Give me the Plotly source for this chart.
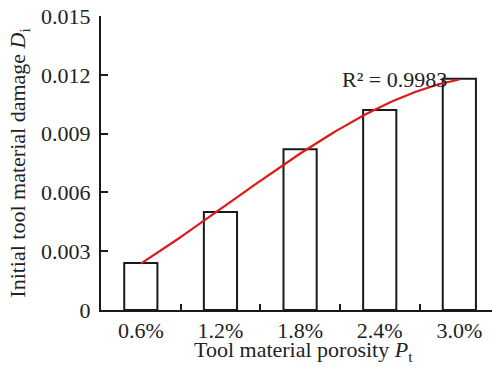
import numpy as np
import plotly.graph_objects as go

# Tool material porosity (%) and initial damage D_i
porosity = [0.6, 1.2, 1.8, 2.4, 3.0]
porosity_labels = ["0.6%", "1.2%", "1.8%", "2.4%", "3.0%"]
damage = [0.0024, 0.0050, 0.0082, 0.0102, 0.0118]

y_ticks = [0, 0.003, 0.006, 0.009, 0.012, 0.015]
y_tick_text = ["0", "0.003", "0.006", "0.009", "0.012", "0.015"]
category_bounds = [0.9, 1.5, 2.1, 2.7]

# Cubic trendline through the bar values
coef = np.polyfit(porosity, damage, 3)
fit_x = np.linspace(porosity[0], porosity[-1], 120)
fit_y = np.polyval(coef, fit_x)
pred = np.polyval(coef, porosity)
ss_res = np.sum((np.array(damage) - pred) ** 2)
ss_tot = np.sum((np.array(damage) - np.mean(damage)) ** 2)
r2 = 1 - ss_res / ss_tot

FONT = "Liberation Serif"
SIZE = 22
PLOT_H = 368 - 16 - 58

fig = go.Figure()
fig.add_trace(go.Bar(
    x=porosity, y=damage, width=0.25,
    marker=dict(color="white", line=dict(color="#1a1a1a", width=2)),
    showlegend=False,
))
fig.add_trace(go.Scatter(
    x=fit_x, y=fit_y, mode="lines",
    line=dict(color="#e01818", width=2.2),
    showlegend=False,
))

fig.add_annotation(
    x=2.51, y=0.01175, xref="x", yref="y",
    text=f"R² = {r2:.4f}", showarrow=False,
    xanchor="center", yanchor="middle",
    font=dict(family=FONT, size=SIZE, color="#222"),
)

# x-axis title anchored to the bottom edge, below the tick labels
fig.add_annotation(
    x=0.519, y=-57 / PLOT_H, xref="paper", yref="paper",
    text="Tool material porosity <i>P</i><sub>t</sub>", showarrow=False,
    xanchor="center", yanchor="bottom",
    font=dict(family=FONT, size=SIZE, color="#222"),
)

fig.update_layout(
    width=492, height=368,
    margin=dict(l=101, r=0, t=16, b=58),
    paper_bgcolor="white", plot_bgcolor="white",
    font=dict(family=FONT, size=SIZE, color="#222"),
    xaxis=dict(
        range=[0.3, 3.246],
        tickvals=porosity, ticktext=porosity_labels,
        ticks="", showgrid=False, zeroline=False,
        showline=True, linecolor="#1a1a1a", linewidth=2,
        minor=dict(tickvals=category_bounds, ticks="inside",
                   ticklen=6, tickwidth=2, tickcolor="#1a1a1a"),
        tickfont=dict(family=FONT, size=SIZE),
    ),
    yaxis=dict(
        range=[0, 0.015],
        tickvals=y_ticks, ticktext=y_tick_text,
        ticks="inside", ticklen=7, tickwidth=2, tickcolor="#1a1a1a",
        showgrid=False, zeroline=False,
        showline=True, linecolor="#1a1a1a", linewidth=2,
        title=dict(text="Initial tool material damage <i>D</i><sub>i</sub>",
                   standoff=9, font=dict(family=FONT, size=SIZE)),
        tickfont=dict(family=FONT, size=SIZE),
        ticklabelstandoff=4,
    ),
)

fig.write_html("out.html")
